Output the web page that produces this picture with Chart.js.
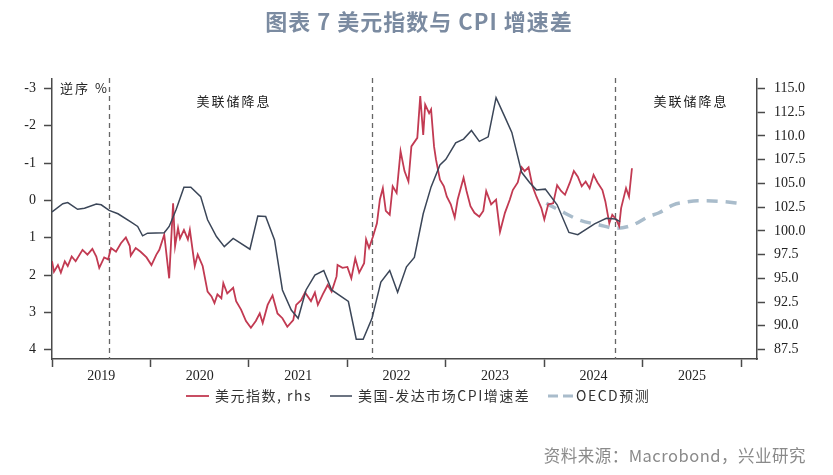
<!DOCTYPE html>
<html>
<head>
<meta charset="utf-8">
<script src="https://cdn.jsdelivr.net/npm/chart.js@4.4.1/dist/chart.umd.min.js"></script>
<style>
  body { margin: 0; background: #fff; }
  #wrap { width: 833px; height: 475px; position: relative; }
</style>
</head>
<body>
<div id="wrap"><canvas id="myChart"></canvas></div>
<script>
// 美元指数 (右轴) - 日期用小数年表示
const dxyDates = [2019.00, 2019.02, 2019.06, 2019.09, 2019.13, 2019.16, 2019.20, 2019.24, 2019.31, 2019.36, 2019.41, 2019.45, 2019.48, 2019.53, 2019.57, 2019.60, 2019.65, 2019.70, 2019.75, 2019.79, 2019.80, 2019.85, 2019.90, 2019.96,
  2020.01, 2020.06, 2020.09, 2020.14, 2020.19, 2020.23, 2020.25, 2020.28, 2020.30, 2020.34, 2020.38, 2020.40, 2020.45, 2020.48, 2020.53, 2020.58, 2020.62, 2020.65, 2020.68, 2020.72, 2020.74, 2020.78, 2020.84, 2020.87, 2020.92, 2020.97,
  2021.02, 2021.07, 2021.11, 2021.14, 2021.19, 2021.24, 2021.29, 2021.34, 2021.39, 2021.45, 2021.48, 2021.53, 2021.57, 2021.63, 2021.67, 2021.70, 2021.75, 2021.80, 2021.84, 2021.89, 2021.90, 2021.95,
  2022.00, 2022.04, 2022.08, 2022.12, 2022.17, 2022.19, 2022.22, 2022.26, 2022.30, 2022.33, 2022.36, 2022.39, 2022.43, 2022.46, 2022.50, 2022.54, 2022.58, 2022.62, 2022.65, 2022.71, 2022.74, 2022.77, 2022.79, 2022.83, 2022.85, 2022.88, 2022.90, 2022.94, 2022.98,
  2023.01, 2023.05, 2023.09, 2023.12, 2023.18, 2023.21, 2023.25, 2023.29, 2023.34, 2023.38, 2023.41, 2023.46, 2023.51, 2023.55, 2023.60, 2023.65, 2023.68, 2023.73, 2023.77, 2023.80, 2023.84, 2023.88, 2023.92, 2023.97,
  2024.00, 2024.04, 2024.09, 2024.13, 2024.17, 2024.21, 2024.26, 2024.30, 2024.34, 2024.38, 2024.42, 2024.46, 2024.50, 2024.54, 2024.59, 2024.62, 2024.66, 2024.69, 2024.73, 2024.76, 2024.78, 2024.83, 2024.86, 2024.89];
const dxyValues = [96.8, 95.7, 96.4, 95.6, 96.8, 96.3, 97.3, 96.8, 98.0, 97.5, 98.1, 97.3, 96.1, 97.2, 97.0, 98.2, 97.8, 98.7, 99.3, 98.4, 97.4, 98.2, 97.8, 97.2,
  96.4, 97.5, 98.0, 99.6, 95.0, 102.9, 98.4, 100.3, 99.2, 100.1, 99.1, 100.1, 96.3, 97.5, 96.3, 93.6, 93.1, 92.4, 93.3, 92.9, 94.5, 93.4, 94.0, 92.6, 91.7, 90.5,
  89.8, 90.5, 91.3, 90.3, 92.2, 93.2, 91.3, 90.8, 89.9, 90.6, 92.2, 92.7, 93.5, 92.6, 93.5, 92.2, 93.3, 94.3, 93.6, 95.2, 96.4, 96.1,
  96.2, 95.0, 97.1, 95.6, 96.6, 99.1, 98.2, 99.4, 100.8, 103.3, 104.5, 102.1, 101.7, 104.7, 104.0, 108.4, 106.3, 105.2, 108.9, 109.8, 114.2, 110.1, 113.3, 112.4, 112.8, 108.9, 107.5, 105.4, 104.7,
  103.6, 102.8, 101.4, 103.3, 105.6, 104.2, 102.6, 101.9, 101.5, 102.1, 104.2, 102.8, 103.3, 99.9, 101.9, 103.3, 104.3, 105.1, 106.7, 106.3, 106.7, 104.7, 103.6, 102.4,
  101.2, 102.8, 102.9, 104.8, 104.2, 103.8, 105.1, 106.3, 105.7, 104.7, 105.2, 104.5, 105.9, 105.1, 104.3, 103.1, 100.8, 101.7, 101.2, 100.5, 102.4, 104.5, 103.6, 106.6];

// 美国-发达市场CPI增速差 (左轴, 逆序)
const cpiDates = [2019.00, 2019.11, 2019.16, 2019.26, 2019.33, 2019.45, 2019.50, 2019.58, 2019.67, 2019.80, 2019.87, 2019.92, 2019.97,
  2020.14, 2020.19, 2020.26, 2020.34, 2020.41, 2020.51, 2020.58, 2020.67, 2020.75, 2020.84,
  2021.01, 2021.09, 2021.17, 2021.26, 2021.34, 2021.43, 2021.50, 2021.58, 2021.67, 2021.76, 2021.84,
  2022.01, 2022.09, 2022.16, 2022.25, 2022.34, 2022.43, 2022.51, 2022.60, 2022.68, 2022.77, 2022.85, 2022.94,
  2023.00, 2023.10, 2023.18, 2023.26, 2023.34, 2023.43, 2023.51, 2023.60, 2023.67, 2023.77, 2023.85, 2023.92,
  2024.01, 2024.13, 2024.25, 2024.34, 2024.51, 2024.63, 2024.72, 2024.77];
const cpiValues = [0.31, 0.09, 0.06, 0.24, 0.21, 0.10, 0.12, 0.27, 0.36, 0.58, 0.70, 0.95, 0.88,
  0.87, 0.70, 0.25, -0.35, -0.35, -0.10, 0.52, 0.97, 1.24, 1.02,
  1.31, 0.42, 0.43, 1.06, 2.40, 2.94, 3.16, 2.40, 2.00, 1.88, 2.40,
  2.71, 3.72, 3.72, 3.16, 2.19, 1.88, 2.46, 1.78, 1.53, 0.36, -0.36, -0.95,
  -1.10, -1.54, -1.64, -1.87, -1.58, -1.70, -2.75, -2.23, -1.82, -0.75, -0.48, -0.28,
  -0.30, 0.12, 0.86, 0.92, 0.63, 0.48, 0.50, 0.57];

// OECD预测
const oecdDates = [2024.02, 2024.15, 2024.35, 2024.56, 2024.73, 2024.90, 2025.06, 2025.16, 2025.31, 2025.43, 2025.56, 2025.80, 2026.02];
const oecdValues = [0.08, 0.26, 0.52, 0.66, 0.75, 0.66, 0.43, 0.34, 0.12, 0.05, 0.01, 0.03, 0.09];

// 美联储降息 / 加息 节点
const eventDates = [2019.58, 2022.25, 2024.72];

const years = [2019, 2020, 2021, 2022, 2023, 2024, 2025, 2026];
const leftTicks = [-3, -2, -1, 0, 1, 2, 3, 4];
const rightTicks = [87.5, 90, 92.5, 95, 97.5, 100, 102.5, 105, 107.5, 110, 112.5, 115];

function toPoints(xs, ys) {
    return xs.map((x, i) => ({ x: x, y: ys[i] }));
}

const AXIS = '#4a4a4a';
const tickFont = { family: 'Liberation Serif', size: 14 };

const annotPlugin = {
    id: 'annot',
    beforeDatasetsDraw(chart) {
        const ctx = chart.ctx;
        const xs = chart.scales.x;
        const area = chart.chartArea;
        ctx.save();
        ctx.strokeStyle = '#666';
        ctx.lineWidth = 1.3;
        ctx.setLineDash([5, 4]);
        eventDates.forEach(d => {
            const px = Math.round(xs.getPixelForValue(d)) + 0.5;
            ctx.beginPath();
            ctx.moveTo(px, area.top - 1);
            ctx.lineTo(px, area.bottom);
            ctx.stroke();
        });
        ctx.restore();
    },
    afterDraw(chart) {
        const ctx = chart.ctx;
        ctx.save();
        // 标题
        ctx.fillStyle = '#7b8ba1';
        ctx.font = 'bold 22px "Noto Sans CJK SC"';
        ctx.letterSpacing = '1px';
        ctx.textAlign = 'center';
        ctx.textBaseline = 'middle';
        ctx.fillText('图表 7 美元指数与 CPI 增速差', 419, 22);

        // 图内标注
        ctx.fillStyle = '#222';
        ctx.font = '13px "Noto Sans CJK SC"';
        ctx.letterSpacing = '2px';
        ctx.textAlign = 'left';
        ctx.fillText('逆序 %', 60, 88);
        ctx.textAlign = 'center';
        ctx.fillText('美联储降息', 234, 101);
        ctx.fillText('美联储降息', 691, 101);

        // 图例
        ctx.textAlign = 'left';
        ctx.font = '14px "Noto Sans CJK SC"';
        ctx.letterSpacing = '1.5px';
        const items = [
            { x: 186, w: 23, tx: 215 },
            { x: 330, w: 22, tx: 358 },
            { x: 548, w: 25, tx: 576 }
        ];
        chart.data.datasets.forEach((ds, i) => {
            const it = items[i];
            ctx.strokeStyle = ds.borderColor;
            ctx.lineWidth = Math.min(ds.borderWidth, 3);
            ctx.setLineDash(ds.borderDash ? [10, 5] : []);
            ctx.beginPath();
            ctx.moveTo(it.x, 396);
            ctx.lineTo(it.x + it.w, 396);
            ctx.stroke();
            ctx.fillStyle = '#333';
            ctx.fillText(ds.label, it.tx, 396);
        });
        ctx.setLineDash([]);

        // 资料来源
        ctx.fillStyle = '#8a8a8a';
        ctx.font = '16.5px "Noto Sans CJK SC"';
        ctx.letterSpacing = '0.5px';
        ctx.textAlign = 'right';
        ctx.fillText('资料来源：Macrobond，兴业研究', 806, 456);
        ctx.restore();
    }
};

function grafikOlustur() {
    const ctx = document.getElementById('myChart').getContext('2d');
    return new Chart(ctx, {
        type: 'line',
        data: {
            datasets: [
                {
                    label: '美元指数, rhs',
                    data: toPoints(dxyDates, dxyValues),
                    yAxisID: 'y1',
                    borderColor: '#c23a52',
                    borderWidth: 1.8,
                    pointRadius: 0,
                    tension: 0,
                    order: 2
                },
                {
                    label: '美国-发达市场CPI增速差',
                    data: toPoints(cpiDates, cpiValues),
                    yAxisID: 'y',
                    borderColor: '#3b4658',
                    borderWidth: 1.5,
                    pointRadius: 0,
                    tension: 0,
                    order: 1
                },
                {
                    label: 'OECD预测',
                    data: toPoints(oecdDates, oecdValues),
                    yAxisID: 'y',
                    borderColor: '#a9bccb',
                    borderWidth: 3.5,
                    borderDash: [11, 8],
                    pointRadius: 0,
                    cubicInterpolationMode: 'monotone',
                    order: 3
                }
            ]
        },
        options: {
            responsive: true,
            maintainAspectRatio: false,
            animation: false,
            layout: { padding: { top: 79, left: 0, right: 0, bottom: 0 } },
            plugins: {
                legend: { display: false },
                tooltip: { enabled: false }
            },
            scales: {
                x: {
                    type: 'linear',
                    min: 2019,
                    max: 2026.16,
                    afterBuildTicks(axis) {
                        const t = [];
                        years.forEach(y => {
                            t.push({ value: y });
                            if (y < 2026) t.push({ value: y + 0.5 });
                        });
                        axis.ticks = t;
                    },
                    afterFit(s) { s.height = 116; },
                    border: { display: true, color: AXIS, width: 1.5 },
                    grid: {
                        drawOnChartArea: false,
                        drawTicks: true,
                        tickLength: 8,
                        tickWidth: 1.5,
                        tickColor: c => Number.isInteger(c.tick.value) ? AXIS : 'rgba(0,0,0,0)'
                    },
                    ticks: {
                        autoSkip: false,
                        maxRotation: 0,
                        padding: 1,
                        color: '#222',
                        font: tickFont,
                        callback: v => Number.isInteger(v) ? '' : String(Math.floor(v))
                    }
                },
                y: {
                    position: 'left',
                    reverse: true,
                    min: -3.25,
                    max: 4.25,
                    afterBuildTicks(axis) { axis.ticks = leftTicks.map(v => ({ value: v })); },
                    afterFit(s) { s.width = 52; },
                    border: { display: true, color: AXIS, width: 1.5 },
                    grid: { drawOnChartArea: false, drawTicks: true, tickLength: 8, tickWidth: 1.5, tickColor: AXIS },
                    ticks: { padding: 8, color: '#222', font: tickFont, callback: v => String(v) }
                },
                y1: {
                    position: 'right',
                    min: 86.5,
                    max: 116.0,
                    afterBuildTicks(axis) { axis.ticks = rightTicks.map(v => ({ value: v })); },
                    afterFit(s) { s.width = 76; },
                    border: { display: true, color: AXIS, width: 1.5 },
                    grid: { drawOnChartArea: false, drawTicks: true, tickLength: 8, tickWidth: 1.5, tickColor: AXIS },
                    ticks: { padding: 9, color: '#222', font: tickFont, callback: v => v.toFixed(1) }
                }
            }
        },
        plugins: [annotPlugin]
    });
}

const myChart = grafikOlustur();
</script>
</body>
</html>
